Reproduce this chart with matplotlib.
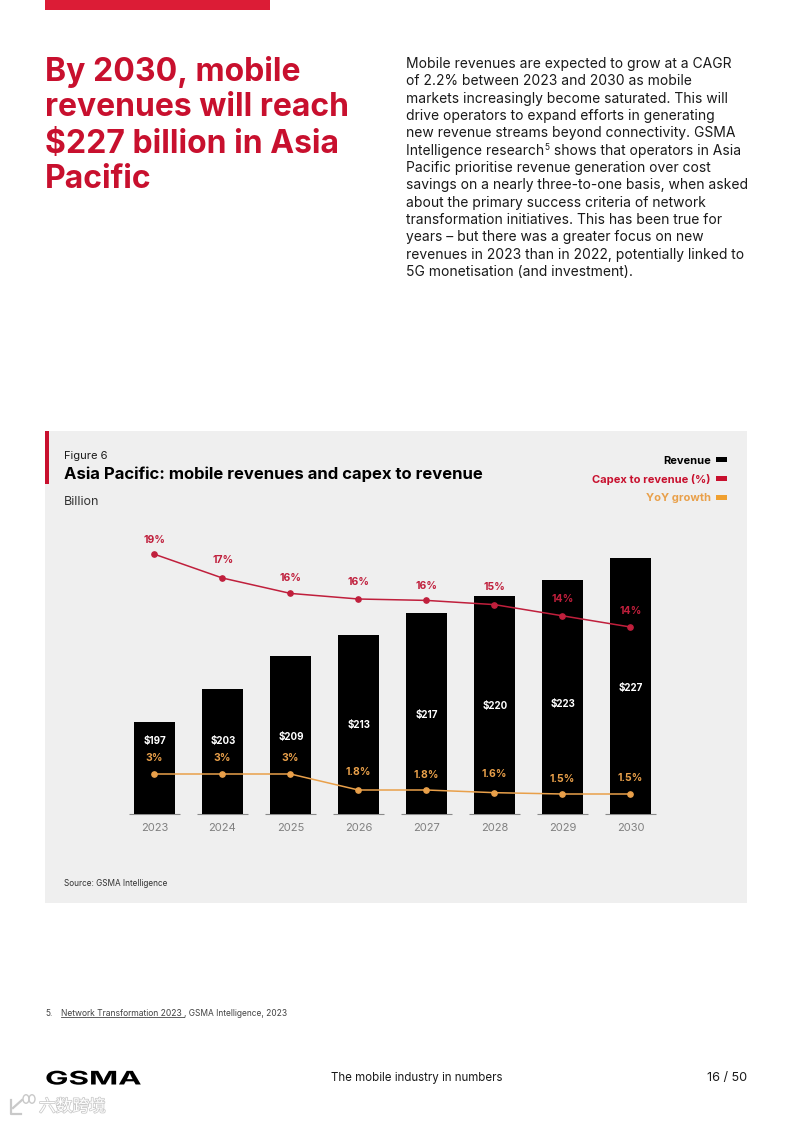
import matplotlib
matplotlib.use('Agg')
import matplotlib.pyplot as plt
from matplotlib.patches import Rectangle, Patch, Circle
from matplotlib.lines import Line2D
from matplotlib.patheffects import AbstractPathEffect, withStroke
from matplotlib.text import Annotation
from matplotlib.transforms import Affine2D

W, H = 793, 1122
plt.rcParams['font.family'] = ['Inter', 'DejaVu Sans']

# Chart data
years = ['2023', '2024', '2025', '2026', '2027', '2028', '2029', '2030']
revenue = [197, 203, 209, 213, 217, 220, 223, 227]
capex = [19.2, 17.5, 16.4, 16.0, 15.9, 15.6, 14.8, 14.0]
capex_labels = ['19%', '17%', '16%', '16%', '16%', '15%', '14%', '14%']
yoy = [3, 3, 3, 1.8, 1.8, 1.6, 1.5, 1.5]
yoy_labels = ['3%', '3%', '3%', '1.8%', '1.8%', '1.6%', '1.5%', '1.5%']

# Label offsets in pixels from the mark
rev_dy = [-18.5, -51.5, -80.5, -90.5, -102.5, -110, -124, -130]
capex_dy = [14, 18.5, 15, 17.5, 14, 17.5, 16.5, 16]
yoy_dy = [16, 16, 16, 18, 15, 19, 15, 16]

# Page text
heading = ['By 2030, mobile', 'revenues will reach', '$227 billion in Asia', 'Pacific']
body = ['Mobile revenues are expected to grow at a CAGR',
        'of 2.2% between 2023 and 2030 as mobile',
        'markets increasingly become saturated. This will',
        'drive operators to expand efforts in generating',
        'new revenue streams beyond connectivity. GSMA',
        None,
        'Pacific prioritise revenue generation over cost',
        'savings on a nearly three-to-one basis, when asked',
        'about the primary success criteria of network',
        'transformation initiatives. This has been true for',
        'years – but there was a greater focus on new',
        'revenues in 2023 than in 2022, potentially linked to',
        '5G monetisation (and investment).']

RED = '#c8102e'
LINE_RED = '#c01f3c'
ORANGE = '#e9a04a'
DARK = '#1a1a1a'


class StretchX(AbstractPathEffect):
    # wide logo lettering, stays a normal text artist
    def __init__(self, sx, x0):
        super().__init__()
        self.sx = sx
        self.x0 = x0

    def draw_path(self, renderer, gc, tpath, affine, rgbFace=None):
        stretch = Affine2D().translate(-self.x0, 0).scale(self.sx, 1).translate(self.x0, 0)
        renderer.draw_path(gc, tpath, affine + stretch, rgbFace)


def fx(x):
    return x / W


def fy(y):
    return 1 - y / H


def put(x, y, s, size, color=DARK, weight='normal', ha='left', **kw):
    return fig.text(fx(x), fy(y + 1), s, fontsize=size, color=color, fontweight=weight,
                    ha=ha, va='center', **kw)


def box(x0, y0, x1, y1, color):
    fig.add_artist(Rectangle((fx(x0), fy(y1)), (x1 - x0) / W, (y1 - y0) / H, zorder=-1,
                             transform=fig.transFigure, facecolor=color, edgecolor='none'))


fig = plt.figure(figsize=(W / 100, H / 100), dpi=100, facecolor='white')

box(45, 0, 270, 10, '#dc1c36')
box(45, 431, 747, 903, '#efefef')
box(45, 431, 49, 484, RED)

for i, line in enumerate(heading):
    put(45, 71 + 36 * i, line, 23, color=RED, weight='bold')

line_y = [63 + 17.33 * i for i in range(len(body))]
for y, line in zip(line_y, body):
    if line is not None:
        put(406, y, line, 10)
t1 = put(406, line_y[5], 'Intelligence research', 10)
sup5 = fig.add_artist(Annotation('5', xy=(1, 0.5), xycoords=t1, xytext=(0.5, 2),
                                 textcoords='offset points', fontsize=6, color=DARK,
                                 va='center', ha='left'))
fig.add_artist(Annotation(' shows that operators in Asia', xy=(1, 0.5), xycoords=sup5,
                          xytext=(0, -2), textcoords='offset points', fontsize=10,
                          color=DARK, va='center', ha='left'))

put(64, 455, 'Figure 6', 8)
put(64, 473, 'Asia Pacific: mobile revenues and capex to revenue', 12, color='black', weight='bold')
put(64, 501, 'Billion', 9, color='#333333')
put(64, 882, 'Source: GSMA Intelligence', 5.9, color='#333333')

# Chart axes, revenue axis does not start at zero
ax = fig.add_axes([fx(120.4), fy(814), 544 / W, 284 / H])
ax.set_facecolor('none')
ax.set_xlim(-0.5, 7.5)
ax.set_ylim(180.2, 232.1)
x = list(range(len(years)))
ax.bar(x, revenue, width=0.61, color='black', zorder=2)
ax.hlines([180.2] * len(x), [i - 0.38 for i in x], [i + 0.38 for i in x], color='#8a8a8a',
          linewidth=0.8, zorder=1, clip_on=False)
for s in ax.spines.values():
    s.set_visible(False)
ax.set_yticks([])
ax.set_xticks(x)
ax.set_xticklabels(years, fontsize=8, color='#808080')
ax.tick_params(axis='x', length=0, pad=6.5)
for i in x:
    ax.annotate(f'${revenue[i]}', (i, revenue[i]), xytext=(0.5, rev_dy[i]), textcoords='offset pixels',
                color='white', fontsize=7, fontweight='bold', ha='center', va='center')

ax_capex = ax.twinx()
ax_capex.set_ylim(0.64, 20.93)
ax_capex.axis('off')
ax_capex.plot(x, capex, color=LINE_RED, linewidth=1.1, marker='o', markersize=3.8)
for i in x:
    ax_capex.annotate(capex_labels[i], (i, capex[i]), xytext=(0.5, capex_dy[i]), textcoords='offset pixels',
                      color=LINE_RED, fontsize=7.5, fontweight='bold', ha='center', va='center')

ax_yoy = ax.twinx()
ax_yoy.set_ylim(0, 21.3)
ax_yoy.axis('off')
ax_yoy.plot(x, yoy, color=ORANGE, linewidth=1.1, marker='o', markersize=3.8)
for i in x:
    ax_yoy.annotate(yoy_labels[i], (i, yoy[i]), xytext=(0, yoy_dy[i]), textcoords='offset pixels',
                    color=ORANGE, fontsize=7.5, fontweight='bold', ha='center', va='center')

handles = [Patch(facecolor='black', linewidth=0, label='Revenue'),
           Patch(facecolor=RED, linewidth=0, label='Capex to revenue (%)'),
           Patch(facecolor='#f0a030', linewidth=0, label='YoY growth')]
fig.legend(handles=handles, loc='upper right', bbox_to_anchor=(fx(727), fy(455.5)), borderaxespad=0,
           borderpad=0, frameon=False, markerfirst=False, alignment='right',
           labelcolor=['black', RED, ORANGE], handlelength=1.0, handleheight=0.3, handletextpad=0.45,
           labelspacing=0.75, prop={'weight': 'bold', 'size': 8})

# Footnote and footer
put(45, 1012, '5.', 6, color='#444444')
put(61, 1012, 'Network Transformation 2023', 6.15, color='#444444')
put(184.5, 1012, ', GSMA Intelligence, 2023', 6.05, color='#444444')
fig.add_artist(Line2D([fx(61), fx(184)], [fy(1016.5), fy(1016.5)], color='#444444', linewidth=0.6))
put(331, 1077, 'The mobile industry in numbers', 8.3)
put(747, 1077, '16 / 50', 9.1, ha='right')
logo = put(45, 1079, 'GSMA', 13.5, color='black', weight='bold')
logo.set_path_effects([StretchX(1.67, 45)])

# Watermark
mark = put(39, 1106, '六数跨境', 12, color='white', family=['Noto Sans CJK SC', 'DejaVu Sans'])
mark.set_path_effects([withStroke(linewidth=1.1, foreground='#c9c9c9')])
fig.add_artist(Line2D([fx(11), fx(11), fx(21)], [fy(1100), fy(1114), fy(1114)], color='#c9c9c9', linewidth=1.6))
fig.add_artist(Line2D([fx(13), fx(22)], [fy(1108), fy(1100)], color='#c9c9c9', linewidth=1.6))
for cx in (26, 32):
    fig.add_artist(Circle((fx(cx), fy(1099)), 3 / W, transform=fig.transFigure, facecolor='none',
                          edgecolor='#c9c9c9', linewidth=1))

fig.savefig('out.png', dpi=100)
